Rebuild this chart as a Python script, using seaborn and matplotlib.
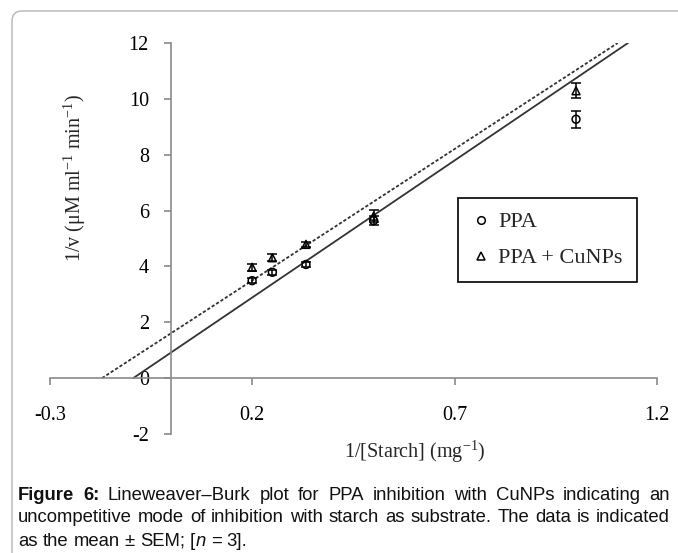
import numpy as np
import pandas as pd
import matplotlib
matplotlib.use("Agg")
import matplotlib.pyplot as plt
from matplotlib.lines import Line2D
from matplotlib.patches import FancyBboxPatch
from matplotlib import font_manager
import seaborn as sns

# ---------------- data ----------------
inv_starch = [0.2, 0.25, 0.333, 0.5, 1.0]
ppa_inv_v = [3.49, 3.79, 4.07, 5.64, 9.27]
ppa_sem = [0.10, 0.10, 0.08, 0.15, 0.30]
cunps_inv_v = [3.97, 4.31, 4.79, 5.80, 10.29]
cunps_sem = [0.12, 0.12, 0.10, 0.22, 0.26]
# trend lines (slope, intercept) as drawn in the figure
ppa_fit = [9.82, 0.92]
cunps_fit = [9.42, 1.61]
series_names = ["PPA", "PPA + CuNPs"]
x_ticks = [-0.3, 0.2, 0.7, 1.2]
y_ticks = [-2, 0, 2, 4, 6, 8, 10, 12]

sns.set_style("white")
plt.rcParams["font.family"] = ["Liberation Serif", "DejaVu Serif"]
plt.rcParams["mathtext.fontset"] = "custom"
plt.rcParams["mathtext.rm"] = "Liberation Serif"
plt.rcParams["mathtext.default"] = "regular"
plt.rcParams["axes.unicode_minus"] = False

W, H = 678, 553
fig = plt.figure(figsize=(W / 100, H / 100), dpi=100)
ax = fig.add_axes([49.7 / W, (H - 434) / H, (657 - 49.7) / W, (434 - 43) / H])
ax.set_facecolor("none")

# trend lines, from x-intercept up to y = 12
line_rows = []
for name, (m, b) in zip(series_names, [ppa_fit, cunps_fit]):
    xs = np.array([-b / m, (12 - b) / m])
    for xv in xs:
        line_rows.append({"x": xv, "y": m * xv + b, "series": name})
lines_df = pd.DataFrame(line_rows)
sns.lineplot(data=lines_df, x="x", y="y", style="series",
             dashes={"PPA": "", "PPA + CuNPs": (1.8, 1.1)},
             color="#333333", linewidth=1.3, legend=False, ax=ax)

# points
pts = pd.DataFrame({
    "x": inv_starch * 2,
    "y": ppa_inv_v + cunps_inv_v,
    "series": [series_names[0]] * 5 + [series_names[1]] * 5,
})
sns.scatterplot(data=pts, x="x", y="y", style="series",
                markers={"PPA": "o", "PPA + CuNPs": "^"},
                s=32, facecolor="none", edgecolor="black", linewidth=1.1,
                legend=False, ax=ax, zorder=5)
ax.errorbar(inv_starch, ppa_inv_v, yerr=ppa_sem, fmt="none", ecolor="black",
            elinewidth=1.1, capsize=3.5, capthick=1.1, zorder=4)
ax.errorbar(inv_starch, cunps_inv_v, yerr=cunps_sem, fmt="none", ecolor="black",
            elinewidth=1.1, capsize=3.5, capthick=1.1, zorder=4)

ax.set_xlim(-0.3, 1.2)
ax.set_ylim(-2, 12)
ax.set_xticks(x_ticks)
ax.set_xticklabels([f"{v:.1f}" for v in x_ticks])
ax.set_yticks(y_ticks)
ax.set_yticklabels([str(v) for v in y_ticks])
ax.set_xlabel("")
ax.set_ylabel("")

for s in ["top", "right"]:
    ax.spines[s].set_visible(False)
ax.spines["left"].set_position(("data", 0))
ax.spines["bottom"].set_position(("data", 0))
for s in ["left", "bottom"]:
    ax.spines[s].set_color("#8a8a8a")
    ax.spines[s].set_linewidth(1.2)
ax.tick_params(axis="x", which="major", bottom=True, top=False, direction="out",
               length=5, width=1.2, color="#8a8a8a",
               pad=15, labelsize=14.5, labelcolor="black")
ax.tick_params(axis="y", which="major", left=True, right=False, direction="out",
               length=5, width=1.2, color="#8a8a8a",
               pad=11, labelsize=14.5, labelcolor="black")

# axis titles
fig.text(75 / W, 1 - 178 / H, "1/v (μM ml$^{-1}$ min$^{-1}$)", rotation=90,
         ha="center", va="center", fontsize=14.5)
fig.text(415 / W, 1 - 452 / H, "1/[Starch] (mg$^{-1}$)",
         ha="center", va="center", fontsize=14.5)

# legend
handles = [Line2D([], [], marker="o", ls="", mfc="none", mec="black", mew=1.1, ms=5.5),
           Line2D([], [], marker="^", ls="", mfc="none", mec="black", mew=1.1, ms=5.5)]
leg = ax.legend(handles, series_names, loc="upper left",
                bbox_to_anchor=((458 - 49.7) / 607.3, (434 - 198) / 391),
                frameon=True, fancybox=False, edgecolor="black", framealpha=1,
                fontsize=16, handlelength=0.8, handletextpad=0.4,
                labelspacing=0.7, borderpad=0.62, borderaxespad=0)
leg.get_frame().set_linewidth(1.2)

# outer rounded frame
frame = FancyBboxPatch((0.12, -0.5), 10, (H - 11) / 100 + 0.5,
                       boxstyle="round,pad=0,rounding_size=0.1",
                       transform=fig.dpi_scale_trans, fill=False,
                       edgecolor="#b5b5b5", linewidth=1.0)
fig.patches.append(frame)

# caption (justified)
available = {f.name for f in font_manager.fontManager.ttflist}
cap_family = ["Liberation Sans Narrow", "Liberation Sans", "DejaVu Sans"] \
    if "Liberation Sans Narrow" in available else ["Liberation Sans", "DejaVu Sans"]
cap_font = dict(family=cap_family, color="#111111")
renderer = fig.canvas.get_renderer()

def measure(txt, fs, **kw):
    t = fig.text(0, 0, txt, fontsize=fs, **cap_font, **kw)
    w = t.get_window_extent(renderer).width
    t.remove()
    return w

B = dict(weight="bold")
N = {}
I = dict(style="italic")
line1 = [[("Figure", B)], [("6:", B)]] + [[(w, N)] for w in
        "Lineweaver–Burk plot for PPA inhibition with CuNPs indicating an".split()]
line2 = [[(w, N)] for w in
         "uncompetitive mode of inhibition with starch as substrate. The data is indicated".split()]
line3 = [[(w, N)] for w in "as the mean ± SEM;".split()] + \
        [[("[", N), ("n", I)], [("=", N)], [("3].", N)]]

# fit font size so the tightest line fits with natural spacing
base = 12.0
nat = measure("uncompetitive mode of inhibition with starch as substrate. The data is indicated", base)
cap_fs = base * 648 / nat

space_w = measure("x x", cap_fs) - measure("xx", cap_fs)

def place_line(words, ypix, justify, x0=18, x1=670):
    widths = [sum(measure(p, cap_fs, **kw) for p, kw in w) for w in words]
    total = sum(widths)
    gap = (x1 - x0 - total) / (len(words) - 1) if justify else space_w
    x = x0
    for w, ww in zip(words, widths):
        xx = x
        for p, kw in w:
            fig.text(xx / W, 1 - ypix / H, p, ha="left", va="center",
                     fontsize=cap_fs, **cap_font, **kw)
            xx += measure(p, cap_fs, **kw)
        x += ww + gap

place_line(line1, 495, True)
place_line(line2, 518, True)
place_line(line3, 541, False)

fig.savefig("out.png", dpi=100)
